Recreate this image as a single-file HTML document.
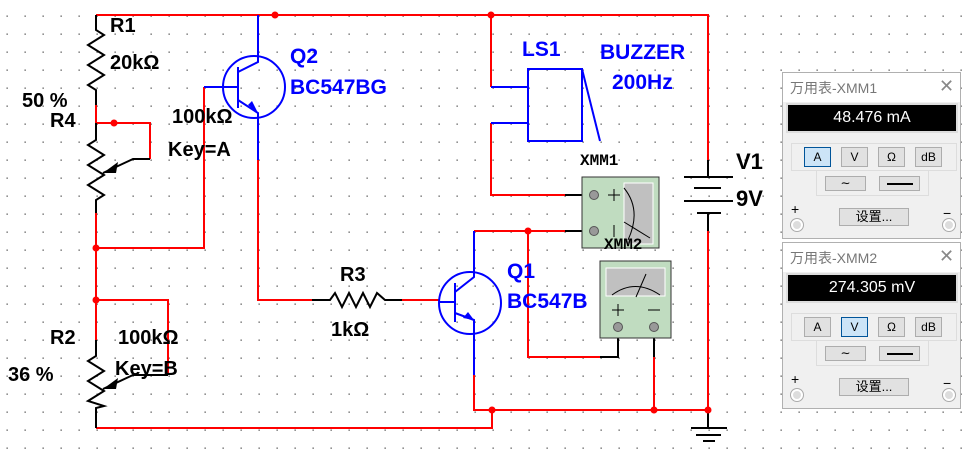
<!DOCTYPE html>
<html><head><meta charset="utf-8"><style>
body{margin:0;width:969px;height:452px;overflow:hidden;background:#fff;font-family:"Liberation Sans",sans-serif}
svg{position:absolute;left:0;top:0}
.p{position:absolute;left:782px;width:179px;height:167px;background:#f0f0f0;border:1px solid #b0b0b0;box-sizing:border-box;font-family:"Liberation Sans","Noto Sans CJK SC",sans-serif}
.p div{position:absolute;box-sizing:border-box}
.tt{left:0;top:0;width:177px;height:29px;background:#fff;font-size:14px;color:#777;padding:5px 0 0 7px}
.x{left:156px;top:3px;font-size:18px;color:#888}
.d{left:3px;top:30px;width:172px;height:30px;background:#000;border:2px solid #ddd;color:#fff;font-size:16px;text-align:center;line-height:26px}
.g1{left:8px;top:70px;width:166px;height:28px;border:1px solid #ddd}
.g2{left:33px;top:98px;width:113px;height:25px;border:1px solid #ddd;border-top:none}
.b{height:20px;width:27px;top:74px;background:#e1e1e1;border:1px solid #adadad;font-size:12px;text-align:center;line-height:18px}
.on{background:#cce4f7;border-color:#005499}
.w{top:103px;height:15px;width:41px;background:#e1e1e1;border:1px solid #adadad}
.s{left:56px;top:135px;width:70px;height:18px;background:#e1e1e1;border:1px solid #adadad;font-size:13px;text-align:center;line-height:16px}
.c{width:12px;height:12px;border-radius:50%;background:#ddd;border:2px solid #fff;box-shadow:0 0 0 1px #aaa;top:146px}
</style></head><body>
<svg width="969" height="452" viewBox="0 0 969 452">
<defs><pattern id="dots" x="6.5" y="15.5" width="18" height="18" patternUnits="userSpaceOnUse"><rect width="1.3" height="1.3" fill="#555"/></pattern></defs>
<rect width="969" height="452" fill="url(#dots)"/>
<g fill="none" stroke-width="2">
<g stroke="#f00">
<path d="M96 15H708V160"/><path d="M708 231V410H474V375"/>
<path d="M492 410V428H96"/>
<path d="M96 105V123H150V159"/><path d="M96 213V340"/>
<path d="M96 248H204V87"/><path d="M96 300H168V375"/>
<path d="M258 160V300H312"/><path d="M402 300H440"/>
<path d="M474 231H565"/><path d="M528 231V357H600"/>
<path d="M654 357V410"/>
<path d="M491 15V87"/><path d="M491 123V195H565"/>
</g>
<g stroke="#000">
<path d="M96 15V30L104 35L88 45L104 55L88 65L104 75L88 85L96 90V105"/>
<path d="M96 123V140L88 145L104 155L88 165L104 175L88 185L104 195L96 200V213"/>
<path d="M150 159H133L103 173"/>
<path d="M96 340V356L88 361L104 371L88 381L104 391L88 401L104 406L96 408V428"/>
<path d="M168 375H133L103 389"/>
<path d="M312 300H330L335 293L342 307L349 293L356 307L363 293L370 307L377 293L385 300H402"/>
<path d="M565 231H593M565 195H593M600 357H618V333M654 333V357"/>
<path d="M708 160V177M708 212V231M708 410V428"/>
<path d="M684 177H733M694 188H721M684 201H733M697 213H721" stroke-width="2"/>
<path d="M691 428H727M696 435H721M703 441H715"/>
</g>
<polygon points="103,173 118,162 116,173" fill="#000"/>
<polygon points="103,389 118,378 116,389" fill="#000"/>
<g stroke="#00f">
<circle cx="254" cy="87" r="31"/><path d="M204 87H238M238 67V108M238 72L258 62V15M238 100L258 113V160"/>
<circle cx="470" cy="303" r="31"/><path d="M440 302H455M455 283V322M455 292L474 277V231M455 313L474 320V375"/>
<path d="M491 87H528M491 123H528"/><rect x="528" y="69" width="54" height="72"/><path d="M582 69L600 141"/>
</g>
<polygon points="258,113 248,105 252,101" fill="#00f"/>
<polygon points="474,320 463,318 468,312" fill="#00f"/>
<g fill="#f00"><circle cx="275" cy="15" r="3.5"/><circle cx="491" cy="15" r="3.5"/><circle cx="114" cy="123" r="3.5"/><circle cx="96" cy="248" r="3.5"/><circle cx="96" cy="300" r="3.5"/><circle cx="528" cy="231" r="3.5"/><circle cx="492" cy="410" r="3.5"/><circle cx="654" cy="410" r="3.5"/><circle cx="708" cy="410" r="3.5"/></g>
</g>
<rect x="582" y="177" width="77" height="71" fill="#c0dcc0" stroke="#333"/>
<rect x="624" y="183" width="29" height="61" fill="#c0c0c0" stroke="#fff"/>
<path d="M624 188Q642 210 628 240M624 222L650 238" stroke="#000" fill="none"/>
<circle cx="594" cy="195" r="4.5" fill="#999" stroke="#555"/><circle cx="594" cy="231" r="4.5" fill="#999" stroke="#555"/>
<path d="M608 195H620M614 189V201M614 225V237" stroke="#000"/>
<g font-family="Liberation Sans,sans-serif" font-weight="bold" font-size="20">
<text x="110" y="32">R1</text><text x="110" y="69">20kΩ</text><text x="22" y="107">50 %</text><text x="50" y="127">R4</text>
<text x="172" y="123">100kΩ</text><text x="168" y="156">Key=A</text>
<text x="50" y="344">R2</text><text x="8" y="381">36 %</text><text x="118" y="344">100kΩ</text><text x="115" y="375">Key=B</text>
<text x="340" y="281">R3</text><text x="331" y="336">1kΩ</text>
<text x="736" y="169" font-size="22">V1</text><text x="736" y="206" font-size="22">9V</text>
<g fill="#00f" font-size="21"><text x="290" y="63">Q2</text><text x="290" y="94">BC547BG</text><text x="522" y="56">LS1</text><text x="600" y="59">BUZZER</text><text x="612" y="89">200Hz</text><text x="507" y="278">Q1</text><text x="507" y="308">BC547B</text></g>
</g>
<rect x="600" y="261" width="71" height="77" fill="#c0dcc0" stroke="#333"/>
<rect x="606" y="268" width="59" height="28" fill="#c0c0c0" stroke="#fff"/>
<path d="M612 295Q635 278 660 295M636 297L646 274" stroke="#000" fill="none"/>
<circle cx="618" cy="327" r="4.5" fill="#999" stroke="#555"/><circle cx="654" cy="327" r="4.5" fill="#999" stroke="#555"/>
<path d="M612 310H624M618 304V316M648 310H660" stroke="#000"/>
<g font-family="Liberation Mono,monospace" font-weight="bold" font-size="16"><text x="580" y="165">XMM1</text><text x="604" y="249">XMM2</text></g>
</svg>
<div class="p" style="top:72px"><div class="tt">万用表-XMM1</div><div class="x">✕</div><div class="d">48.476 mA</div><div class="g1"></div><div class="g2"></div>
<div class="b on" style="left:21px">A</div><div class="b" style="left:58px">V</div><div class="b" style="left:95px">Ω</div><div class="b" style="left:132px">dB</div>
<div class="w" style="left:42px;text-align:center;font-size:12px;line-height:12px">∼</div><div class="w on" style="left:96px"><div style="left:7px;top:6px;width:26px;height:2px;background:#000"></div></div>
<div style="left:8px;top:128px;font-size:14px">+</div><div style="left:160px;top:132px;font-size:14px">−</div><div class="s">设置...</div><div class="c" style="left:8px"></div><div class="c" style="left:160px"></div></div>
<div class="p" style="top:242px"><div class="tt">万用表-XMM2</div><div class="x">✕</div><div class="d">274.305 mV</div><div class="g1"></div><div class="g2"></div>
<div class="b" style="left:21px">A</div><div class="b on" style="left:58px">V</div><div class="b" style="left:95px">Ω</div><div class="b" style="left:132px">dB</div>
<div class="w" style="left:42px;text-align:center;font-size:12px;line-height:12px">∼</div><div class="w on" style="left:96px"><div style="left:7px;top:6px;width:26px;height:2px;background:#000"></div></div>
<div style="left:8px;top:128px;font-size:14px">+</div><div style="left:160px;top:132px;font-size:14px">−</div><div class="s">设置...</div><div class="c" style="left:8px"></div><div class="c" style="left:160px"></div></div>
</body></html>
